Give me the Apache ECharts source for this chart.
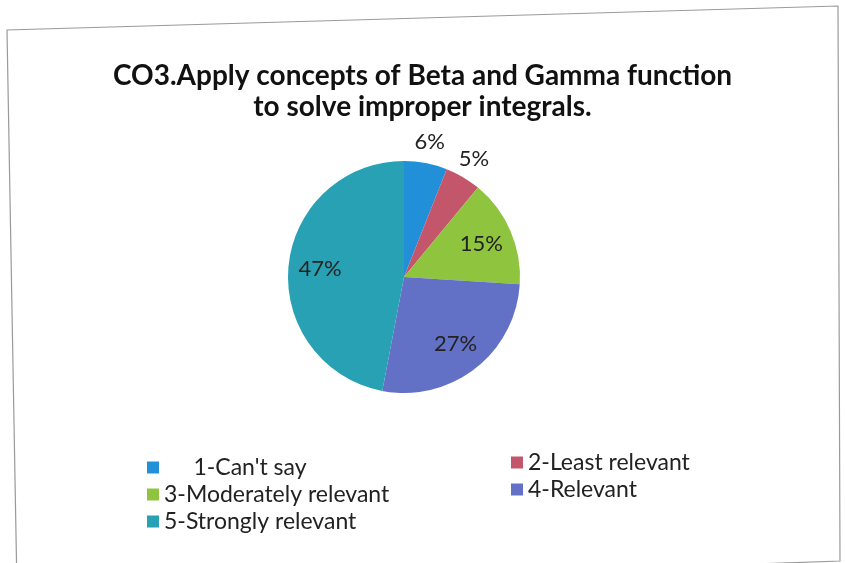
<!DOCTYPE html>
<html>
<head>
<meta charset="utf-8">
<script src="https://cdn.jsdelivr.net/npm/echarts@6/dist/echarts.min.js"></script>
<style>html,body{margin:0;padding:0;background:#fff}#c{width:845px;height:563px}</style>
</head>
<body>
<div id="c"></div>
<script>
var titleText = "CO3.Apply concepts of Beta and Gamma function\nto solve improper integrals.";
var categories = ["1-Can't say", "2-Least relevant", "3-Moderately relevant", "4-Relevant", "5-Strongly relevant"];
var values = [6, 5, 15, 27, 47];
var colors = ["#2290d8", "#c4566c", "#8ec43e", "#6270c6", "#27a1b3"];
var outsideLabelCats = ["1-Can't say", "2-Least relevant"];

var chart = echarts.init(document.getElementById('c'));
var center = [404, 277];
var R = 116;
var font = 'Lato, "Open Sans", sans-serif';

function mkData(kind) {
  return categories.map(function (c, i) {
    var isOut = outsideLabelCats.indexOf(c) >= 0;
    var show = kind === 'main' ? false : (kind === 'outer' ? isOut : !isOut);
    return {
      name: c,
      value: values[i],
      itemStyle: kind === 'main' ? { color: colors[i] } : { color: 'rgba(0,0,0,0)' },
      label: { show: show }
    };
  });
}

var labelStyle = {
  position: 'inside',
  formatter: '{c}%',
  fontSize: 22,
  fontFamily: font,
  color: '#222'
};

chart.setOption({
  animation: false,
  backgroundColor: '#fff',
  color: colors,
  title: {
    text: titleText,
    left: 'center',
    top: 55,
    textStyle: { fontSize: 28, fontWeight: 'bold', fontFamily: font, color: '#111', lineHeight: 31 }
  },
  legend: [
    {
      data: [categories[0], categories[2], categories[4]],
      orient: 'vertical',
      left: 142, top: 451,
      itemWidth: 12, itemHeight: 12, itemGap: 4, icon: 'rect',
      formatter: function (n) { return n === categories[0] ? '     ' + n : n; },
      textStyle: { fontSize: 23, fontFamily: font, color: '#222' }
    },
    {
      data: [categories[1], categories[3]],
      orient: 'vertical',
      left: 506, top: 446,
      itemWidth: 12, itemHeight: 12, itemGap: 4, icon: 'rect',
      textStyle: { fontSize: 23, fontFamily: font, color: '#222' }
    }
  ],
  graphic: [{
    type: 'polyline',
    silent: true,
    shape: { points: [[17, 590], [7, 30], [838, 6], [840, 561], [17, 590]] },
    style: { stroke: '#9a9a9a', lineWidth: 1.2, fill: null }
  }],
  series: [
    {
      type: 'pie', name: 'main', center: center, radius: [0, R],
      startAngle: 90, clockwise: true, silent: true,
      label: { show: false }, labelLine: { show: false },
      data: mkData('main')
    },
    {
      type: 'pie', name: 'innerLabels', center: center, radius: [0, R * 1.4],
      startAngle: 90, clockwise: true, silent: true, legendHoverLink: false,
      label: labelStyle, labelLine: { show: false },
      data: mkData('inner')
    },
    {
      type: 'pie', name: 'outerLabels', center: center, radius: [0, R * 2.32],
      startAngle: 90, clockwise: true, silent: true, legendHoverLink: false,
      label: labelStyle, labelLine: { show: false },
      data: mkData('outer')
    }
  ]
});
</script>
</body>
</html>
